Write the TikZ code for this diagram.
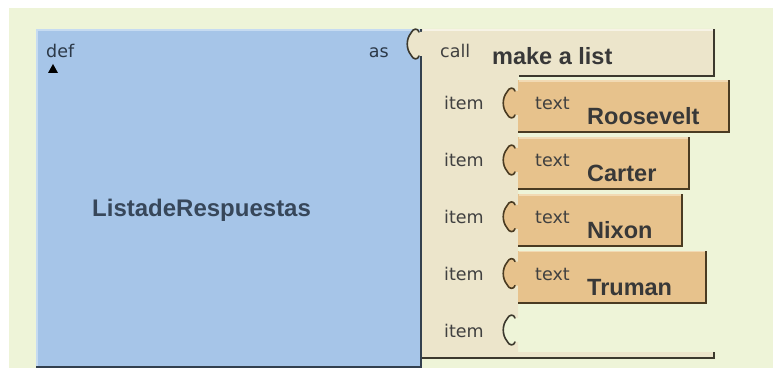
\documentclass[tikz,border=0pt]{standalone}
\usepackage{fontspec}
\setmainfont{Liberation Sans}
\newfontfamily\labelfont{DejaVu Sans}
\definecolor{canvas}{HTML}{EEF4D8}
\definecolor{defblue}{HTML}{A6C5E8}
\definecolor{defhi}{HTML}{C6DBF1}
\definecolor{defshade}{HTML}{33404E}
\definecolor{callbeige}{HTML}{ECE5CB}
\definecolor{beigehi}{HTML}{F7F3E6}
\definecolor{beigeshade}{HTML}{3C392E}
\definecolor{textorange}{HTML}{E7C28C}
\definecolor{orangehi}{HTML}{F2DAB4}
\definecolor{orangeshade}{HTML}{4A3B22}
\definecolor{labelgray}{HTML}{404040}
\definecolor{namegray}{HTML}{383838}
\definecolor{defname}{HTML}{37475A}
\tikzset{
  lbl/.style={inner sep=0pt, text=labelgray, font=\labelfont\fontsize{17.5}{20}\selectfont},
  bigname/.style={inner sep=0pt, text=namegray, font=\bfseries\fontsize{23.5}{28}\selectfont},
}
% jigsaw plug on a vertical edge at x=#1, centred on y=#2:
% \jigfill fills it, \jigcurve strokes its rounded outer outline
\newcommand{\jigfill}[3]{%
  \fill[#3] (#1+1,#2-12) -- (#1-3,#2-12)
    .. controls (#1-4,#2-16) and (#1-9,#2-16) .. (#1-11,#2-11)
    .. controls (#1-16,#2-5) and (#1-16,#2+5) .. (#1-11,#2+11)
    .. controls (#1-9,#2+16) and (#1-4,#2+16) .. (#1-3,#2+12)
    -- (#1+1,#2+12) -- cycle;}
\newcommand{\jigcurve}[3]{%
  \draw[#3, line width=1.6pt, line cap=round]
    (#1-3,#2-12) .. controls (#1-4,#2-16) and (#1-9,#2-16) .. (#1-11,#2-11)
    .. controls (#1-16,#2-5) and (#1-16,#2+5) .. (#1-11,#2+11)
    .. controls (#1-9,#2+16) and (#1-4,#2+16) .. (#1-3,#2+12);}
\begin{document}
\begin{tikzpicture}[x=1pt,y=-1pt]
\useasboundingbox (0,0) rectangle (773,374);
\fill[white] (0,0) rectangle (773,374);
\fill[canvas] (9,8) rectangle (773,368);

% definition block
\fill[defblue] (36,29) rectangle (422,368);
\draw[defhi, line width=1.5pt] (37,366) -- (37,30) -- (421,30);
\draw[defshade, line width=2pt] (36,367) -- (421,367) -- (421,29);
\node[lbl, anchor=base west, text=defname!80!black] (def) at (46,58) {def};
\fill[black] (48,73) -- (58,73) -- (53,64) -- cycle;
\node[lbl, anchor=base east, text=defname!80!black] (as) at (389,58) {as};
\node[inner sep=0pt, anchor=base west, text=defname, font=\bfseries\fontsize{24}{28}\selectfont]
  (varname) at (92,216) {ListadeRespuestas};

% make-a-list call block: header, item column and foot
\fill[callbeige] (422,29) -- (715,29) -- (715,77) -- (518,77)
  -- (518,352) -- (715,352) -- (715,359) -- (422,359) -- cycle;
\jigfill{422}{44}{callbeige}
% empty socket of the last item
\jigfill{518}{330}{canvas}
\draw[beigehi, line width=1.5pt] (423,30) -- (713,30);
\draw[beigeshade, line width=2pt] (519,76) -- (714,76) -- (714,29);
\draw[beigeshade, line width=2pt] (422,358) -- (714,358) -- (714,352);
\jigcurve{422}{44}{beigeshade}
\jigcurve{518}{330}{beigeshade}
\node[lbl, anchor=base west] (call) at (440,58) {call};
\node[bigname, anchor=base west] (makelist) at (492,65) {make a list};
\foreach \i in {0,...,4}
  \node[lbl, anchor=base west] (item\i) at (444,{110+56.75*\i}) {item};

% text blocks plugged into the item sockets
\foreach \top/\rgt/\name/\nm in {80/730/Roosevelt/a, 137/690/Carter/b,
                                 193.75/683/Nixon/c, 250.5/707/Truman/d}{
  \fill[textorange] (518,\top) rectangle (\rgt,\top+53);
  \jigfill{518}{\top+23}{textorange}
  \draw[orangehi, line width=1.5pt] (519,\top+1) -- (\rgt-1,\top+1);
  \draw[orangeshade, line width=2pt] (518,\top+52) -- (\rgt-1,\top+52) -- (\rgt-1,\top);
  \jigcurve{518}{\top+23}{orangeshade}
  \node[lbl, anchor=base west] (kw-\nm) at (535,\top+30) {text};
  \node[bigname, anchor=base west] (str-\nm) at (587,\top+45) {\name};
}
\end{tikzpicture}
\end{document}
